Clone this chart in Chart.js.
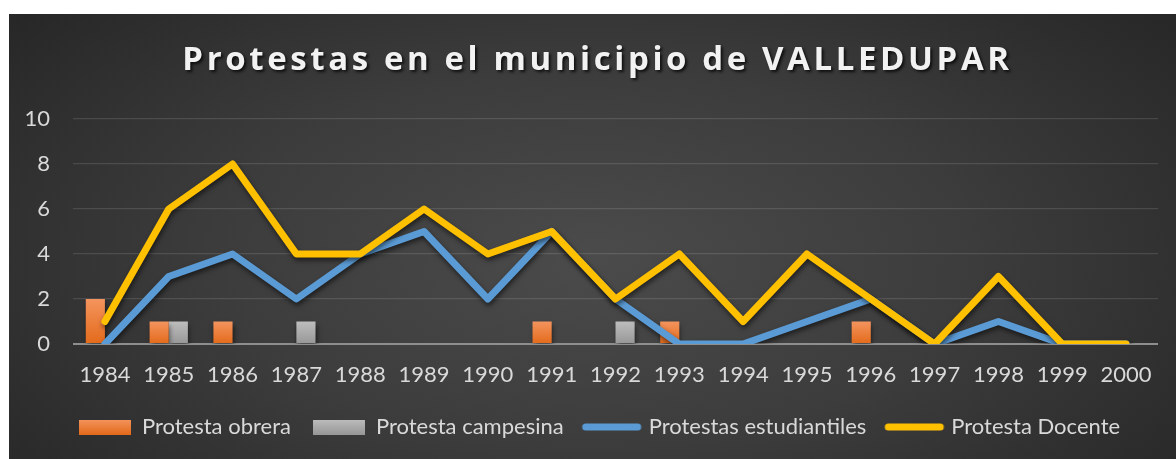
<!DOCTYPE html>
<html>
<head>
<meta charset="utf-8">
<script src="https://cdn.jsdelivr.net/npm/chart.js@4.4.1/dist/chart.umd.min.js"></script>
<style>
  html, body { margin: 0; padding: 0; background: #fff; }
  #panel {
    position: absolute; left: 9px; top: 14px; width: 1167px; height: 445px;
    background: radial-gradient(ellipse 65% 85% at 50% 55%, #4b4b4b 0%, #3c3c3c 50%, #272727 100%);
  }
  canvas { display: block; }
</style>
</head>
<body>
<div id="panel"><canvas id="chartValledupar"></canvas></div>
<script>
'use strict';

const chartTitle = 'Protestas en el municipio de VALLEDUPAR';
const years = ['1984', '1985', '1986', '1987', '1988', '1989', '1990', '1991', '1992',
  '1993', '1994', '1995', '1996', '1997', '1998', '1999', '2000'];
const obrera        = [2, 1, 1, 0, 0, 0, 0, 1, 0, 1, 0, 0, 1, 0, 0, 0, 0];
const campesina     = [0, 1, 0, 1, 0, 0, 0, 0, 1, 0, 0, 0, 0, 0, 0, 0, 0];
const estudiantiles = [0, 3, 4, 2, 4, 5, 2, 5, 2, 0, 0, 1, 2, 0, 1, 0, 0];
const docente       = [1, 6, 8, 4, 4, 6, 4, 5, 2, 4, 1, 4, 2, 0, 3, 0, 0];
const yTicks = [0, 2, 4, 6, 8, 10];

const TEXT = '#d9d9d9';
const tickFont = { family: 'Lato', size: 22 };

// vertical gradient per bar, from its top down to the zero line
function barFill(top, bottom) {
  return (context) => {
    const chart = context.chart;
    if (!chart.chartArea || context.type !== 'data') return bottom;
    const yScale = chart.scales.y;
    const y0 = yScale.getPixelForValue(0);
    const y1 = yScale.getPixelForValue(context.parsed.y || 0.001);
    const g = chart.ctx.createLinearGradient(0, y1, 0, y0);
    g.addColorStop(0, top);
    g.addColorStop(1, bottom);
    return g;
  };
}

function barIcon(top, bottom) {
  const c = document.createElement('canvas');
  c.width = 52; c.height = 15;
  const g = c.getContext('2d');
  const grad = g.createLinearGradient(0, 0, 0, 15);
  grad.addColorStop(0, top);
  grad.addColorStop(1, bottom);
  g.fillStyle = grad;
  g.fillRect(0, 0, 52, 15);
  return c;
}

function lineIcon(color) {
  const c = document.createElement('canvas');
  c.width = 62; c.height = 10;
  const g = c.getContext('2d');
  g.strokeStyle = color;
  g.lineWidth = 7;
  g.lineCap = 'round';
  g.beginPath();
  g.moveTo(5, 5);
  g.lineTo(57, 5);
  g.stroke();
  return c;
}

const icons = [
  barIcon('#f4945e', '#e36a1a'),
  barIcon('#bdbdbd', '#979797'),
  lineIcon('#5b9bd5'),
  lineIcon('#ffc000')
];

const titlePlugin = {
  id: 'spacedTitle',
  afterDraw(chart) {
    const ctx = chart.ctx;
    ctx.save();
    ctx.font = 'bold 33px "Open Sans"';
    ctx.letterSpacing = '3.6px';
    ctx.fillStyle = '#f2f2f2';
    ctx.textAlign = 'center';
    ctx.textBaseline = 'middle';
    ctx.shadowColor = 'rgba(0,0,0,0.75)';
    ctx.shadowBlur = 3;
    ctx.shadowOffsetX = 2;
    ctx.shadowOffsetY = 2;
    ctx.fillText(chartTitle, chart.width / 2 + 5, 47);
    ctx.restore();
  }
};

const shadowPlugin = {
  id: 'seriesShadow',
  beforeDatasetDraw(chart) {
    const ctx = chart.ctx;
    ctx.save();
    ctx.shadowColor = 'rgba(0,0,0,0.55)';
    ctx.shadowBlur = 5;
    ctx.shadowOffsetX = 1;
    ctx.shadowOffsetY = 3;
  },
  afterDatasetDraw(chart) {
    chart.ctx.restore();
  }
};

// the legend sits a little right of centre in the original
const legendShift = {
  id: 'legendShift',
  afterLayout(chart) {
    const lg = chart.legend;
    if (!lg) return;
    lg.left += 16;
    lg.right += 16;
  }
};

new Chart(document.getElementById('chartValledupar'), {
  data: {
    labels: years,
    datasets: [
      {
        type: 'bar', label: 'Protesta obrera', data: obrera, order: 3,
        backgroundColor: barFill('#f4945e', '#e36a1a'), borderWidth: 0,
        categoryPercentage: 0.6, barPercentage: 1
      },
      {
        type: 'bar', label: 'Protesta campesina', data: campesina, order: 4,
        backgroundColor: barFill('#bdbdbd', '#979797'), borderWidth: 0,
        categoryPercentage: 0.6, barPercentage: 1
      },
      {
        type: 'line', label: 'Protestas estudiantiles', data: estudiantiles, order: 2,
        borderColor: '#5b9bd5', borderWidth: 7, pointRadius: 0, tension: 0,
        borderCapStyle: 'round', borderJoinStyle: 'round', fill: false
      },
      {
        type: 'line', label: 'Protesta Docente', data: docente, order: 1,
        borderColor: '#ffc000', borderWidth: 7, pointRadius: 0, tension: 0,
        borderCapStyle: 'round', borderJoinStyle: 'round', fill: false
      }
    ]
  },
  options: {
    responsive: true,
    maintainAspectRatio: false,
    animation: false,
    layout: { padding: { top: 105, right: 18, left: 0, bottom: 11 } },
    plugins: {
      title: { display: false },
      tooltip: { enabled: false },
      legend: {
        position: 'bottom',
        labels: {
          usePointStyle: true,
          pointStyleWidth: 52,
          boxHeight: 15,
          color: TEXT,
          font: tickFont,
          padding: 22,
          generateLabels(chart) {
            return chart.data.datasets.map((ds, i) => ({
              text: ds.label,
              datasetIndex: i,
              pointStyle: icons[i],
              fontColor: TEXT,
              hidden: false,
              lineWidth: 0
            }));
          }
        }
      }
    },
    scales: {
      x: {
        grid: { display: false, drawTicks: false },
        border: { display: false },
        ticks: { color: TEXT, font: tickFont, padding: 18, maxRotation: 0, autoSkip: false },
        afterFit(axis) { axis.height = 50; }
      },
      y: {
        min: 0,
        max: 10,
        afterBuildTicks(axis) { axis.ticks = yTicks.map(v => ({ value: v })); },
        border: { display: false },
        grid: {
          drawTicks: false,
          color: ctx => ctx.tick && ctx.tick.value === 0 ? '#8e8e8e' : 'rgba(255,255,255,0.12)',
          lineWidth: ctx => ctx.tick && ctx.tick.value === 0 ? 2 : 1.3
        },
        ticks: { color: TEXT, font: tickFont, padding: 23 },
        afterFit(axis) { axis.width = 64; }
      }
    }
  },
  plugins: [titlePlugin, shadowPlugin, legendShift]
});
</script>
</body>
</html>
